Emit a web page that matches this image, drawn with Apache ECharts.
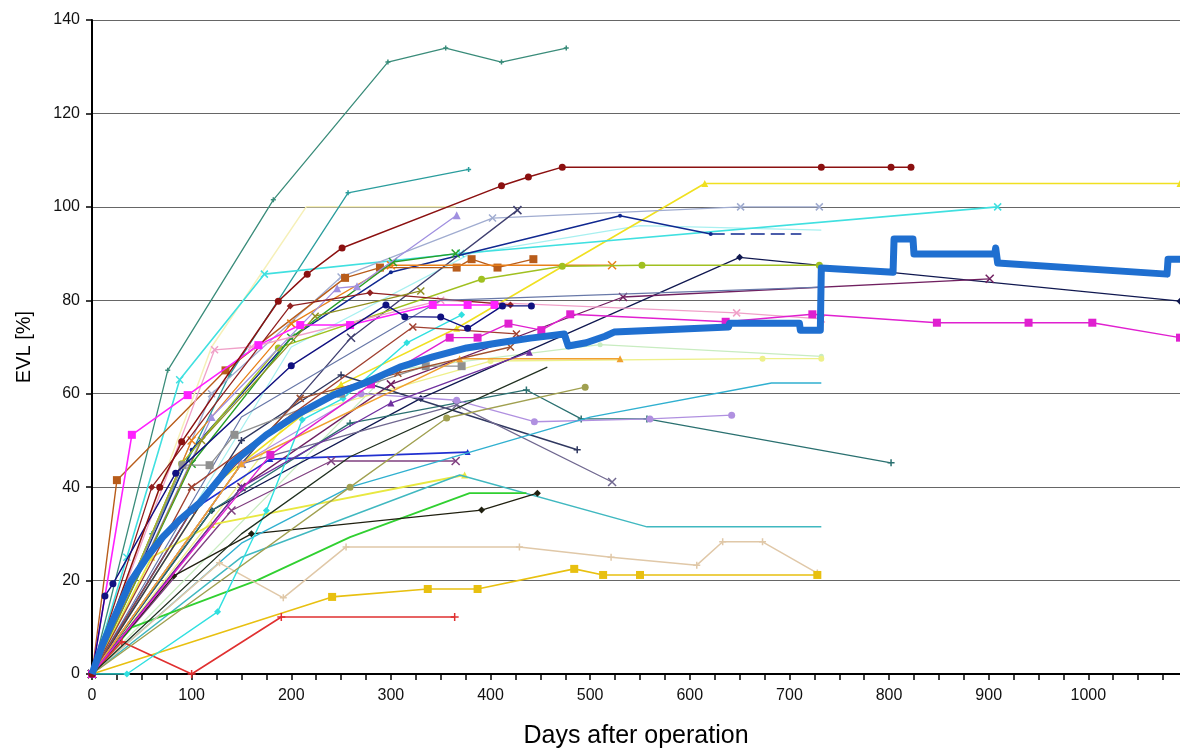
<!DOCTYPE html>
<html><head><meta charset="utf-8">
<script src="https://cdn.jsdelivr.net/npm/echarts@6/dist/echarts.min.js"></script>
<style>html,body{margin:0;padding:0;background:#fff}#c{width:1180px;height:752px}</style>
</head><body><div id="c"></div>
<script>
// ---- data: [days after operation, EVL %] ----
const seaTop      = [[0,0],[76,65],[182,101.5],[297,131],[355,134],[411,131],[476,134]];
const teal108     = [[0,0],[60,30],[138,64],[257,103],[378,108]];
const maroonDots  = [[0,0],[68,40],[90,49.7],[187,79.8],[216,85.6],[251,91.2],[411,104.5],[438,106.4],[472,108.5],[732,108.5],[802,108.5],[822,108.5]];
const yellowTop   = [[0,0],[120,40],[250,62],[366,74],[615,105],[1092,105]];
const cyanTop     = [[0,0],[35,25],[88,63],[173,85.6],[370,90],[909,100]];
const ltSteel     = [[0,0],[120,60],[250,85],[402,97.6],[651,100],[730,100]];
const darkSlateX  = [[0,0],[150,45],[260,72],[427,99.3]];
const navyPeak    = [[0,0],[100,48],[200,72],[300,86],[530,98.1],[621,94.2]];
const navyDash    = [[621,94.2],[712,94.2]];
const navyDiamond = [[0,0],[120,35],[330,59],[650,89.2],[1092,79.8]];
const purpleX     = [[0,0],[150,40],[300,62],[533,80.7],[901,84.6]];
const magentaA    = [[0,0],[40,51.2],[96,59.7],[167,70.4],[209,74.7],[259,74.7],[342,79],[377,79],[404,79]];
const magentaB    = [[0,0],[179,46.9],[280,62],[359,72],[387,72],[418,75],[451,73.6],[480,77],[636,75.4],[723,77],[848,75.2],[940,75.2],[1004,75.2],[1092,72]];
const brownSq     = [[0,0],[25,41.5],[134,65],[254,84.8],[289,87],[366,87],[381,88.8],[407,87],[443,88.8]];
const orangeX     = [[0,0],[100,50],[200,75],[300,87.5],[522,87.5]];
const limeCircle  = [[0,0],[90,45],[187,69.8],[391,84.5],[472,87.3],[552,87.5],[730,87.5]];
const greenX      = [[0,0],[100,45],[200,72],[302,88.2],[365,90]];
const navyCircles = [[0,0],[13,16.7],[21,19.3],[84,43],[200,66],[295,79],[314,76.5],[350,76.4],[377,74],[412,78.8],[441,78.8]];
const lavenderTri = [[0,0],[120,55],[246,82.6],[266,83],[366,98.2]];
const pinkX       = [[0,0],[123,69.4],[160,70],[350,80],[647,77.3],[732,76]];
const darkRed     = [[0,0],[60,40],[199,78.8],[279,81.6],[420,79]];
const slateFlat   = [[0,0],[150,55],[350,80],[732,82.8]];
const blueFlat47  = [[0,0],[100,35],[179,46],[377,47.5]];
const purpleFlat  = [[0,0],[140,35],[240,45.6],[365,45.6]];
const yellowB     = [[0,0],[60,25],[120,32],[374,42.6]];
const tealDown    = [[0,0],[150,25],[369,42.6],[557,31.5],[732,31.5]];
const greenB      = [[0,0],[40,10],[165,20],[259,29.3],[379,38.7],[436,38.7]];
const blackD      = [[0,0],[82,21],[160,30],[391,35.1],[447,38.7]];
const tealPlus    = [[0,0],[120,35],[259,53.7],[436,60.8],[491,54.6],[557,54.6],[802,45.2]];
const slateDown   = [[0,0],[150,50],[250,64],[487,48]];
const grayPurpleX = [[0,0],[150,45],[366,57.6],[522,41.1]];
const lavCircle   = [[0,0],[150,45],[270,60],[366,58.6],[444,54],[560,54.6],[642,55.4]];
const cyanRise    = [[0,0],[150,28],[259,40],[500,55],[682,62.3],[732,62.3]];
const tanLine     = [[0,0],[128,23.8],[192,16.3],[255,27.2],[429,27.2],[521,25],[607,23.3],[633,28.3],[673,28.3],[728,21.6]];
const goldSq      = [[0,0],[241,16.5],[337,18.2],[387,18.2],[484,22.5],[513,21.2],[550,21.2],[728,21.2]];
const redLine     = [[0,0],[30,6.9],[100,0],[190,12.2],[364,12.2]];
const brightCyan  = [[0,0],[35,0],[126,13.3],[175,35],[211,54.4],[252,59],[316,70.9],[371,76.9]];
const graySq      = [[0,0],[91,44.7],[118,44.7],[143,51.2],[250,60],[335,65.9],[371,65.9]];
const orangeTri   = [[0,0],[150,45],[369,67.5],[530,67.5]];
const paleY       = [[0,0],[200,55],[400,67],[673,67.5],[732,67.5]];
const paleGreen   = [[0,0],[300,65],[510,70.5],[732,68]];
const oliveCircle = [[0,0],[259,40],[356,54.8],[495,61.4]];
const blackRise   = [[0,0],[150,30],[259,46.5],[457,65.7]];
const purpleTri   = [[0,0],[150,40],[300,58],[439,68.9]];
const ltCyan      = [[0,0],[200,70],[380,90],[550,96],[732,95]];
const paleYel100  = [[0,0],[120,70],[215,100],[365,100]];
const brownXs     = [[0,0],[100,40],[322,74.3],[426,72.8]];
const oliveX      = [[0,0],[110,50],[224,76.6],[330,82]];
const brownX2     = [[0,0],[100,35],[209,59],[307,64.4],[420,70]];
const blueMean    = [[0,0],[10,6],[20,11],[38,19.5],[55,25],[71,29.3],[88,33],[108,36.6],[141,45.2],[175,51.2],[209,55.9],[242,59.7],[276,62.5],[309,65.7],[342,67.9],[376,69.8],[409,70.9],[440,71.9],[474,72.8],[478,70.2],[496,70.9],[515,72.3],[524,73.2],[639,74.3],[640,75.1],[710,75.1],[711,73.6],[731,73.6],[732,86.9],[804,86],[805,93.1],[824,93.1],[825,89.9],[906,89.9],[907,91.2],[909,88],[1079,85.6],[1080,88.8],[1092,88.8]];

const yTicks = [0,20,40,60,80,100,120,140];
const xLabelStep = 100;

// ---- styles ----
const X = 'path://M0,0L10,10M10,0L0,10';
const P = 'path://M5,0L5,10M0,5L10,5';
const styles = [
  [paleYel100,'#f6f0b8','none',0,1.5],
  [paleGreen,'#c8ecc0','circle',5,1.3],
  [paleY,'#eef08a','circle',6,1.3],
  [ltCyan,'#a8f0f0','none',0,1.3],
  [seaTop,'#3a8c7a',P,5,1.3],
  [teal108,'#2a9d9d',P,5,1.3],
  [yellowTop,'#f0e020','triangle',7,1.6],
  [cyanTop,'#40e0e0',X,7,1.6],
  [ltSteel,'#a0acd0',X,7,1.3],
  [darkSlateX,'#404070',X,8,1.3],
  [navyPeak,'#102890','circle',4,1.5],
  [navyDiamond,'#101850','diamond',7,1.3],
  [purpleX,'#702060',X,8,1.3],
  [brownSq,'#b85c1a','rect',8,1.4],
  [orangeX,'#e8801a',X,8,1.3],
  [limeCircle,'#a0c020','circle',7,1.4],
  [greenX,'#28a028',X,8,1.4],
  [lavenderTri,'#a090e0','triangle',8,1.3],
  [pinkX,'#f0a0c8',X,7,1.3],
  [darkRed,'#902020','diamond',7,1.3],
  [slateFlat,'#6878a8','none',0,1.2],
  [blueFlat47,'#2030d0','triangle',6,1.6],
  [purpleFlat,'#804080',X,8,1.3],
  [yellowB,'#e8e840','triangle',7,1.8],
  [tealDown,'#40b8c0','none',0,1.5],
  [greenB,'#30d030','none',0,1.8],
  [blackD,'#202010','diamond',7,1.3],
  [tealPlus,'#2a7070',P,7,1.3],
  [slateDown,'#303860',P,7,1.4],
  [grayPurpleX,'#706890',X,8,1.3],
  [lavCircle,'#b090e0','circle',7,1.3],
  [cyanRise,'#30b0d0','none',0,1.4],
  [tanLine,'#e0c8a8',P,7,1.5],
  [goldSq,'#e8c010','rect',8,1.6],
  [redLine,'#e03030',P,8,1.6],
  [brightCyan,'#30e0e0','diamond',7,1.4],
  [graySq,'#909090','rect',8,1.3],
  [orangeTri,'#f0a030','triangle',7,1.5],
  [oliveCircle,'#a0a050','circle',7,1.3],
  [blackRise,'#203020','none',0,1.3],
  [purpleTri,'#7030a0','triangle',7,1.3],
  [brownXs,'#a04030',X,7,1.3],
  [oliveX,'#909020',X,7,1.3],
  [brownX2,'#a05030',X,7,1.3],
  [magentaA,'#ff20ff','rect',8,1.6],
  [magentaB,'#e020d0','rect',8,1.4],
  [navyCircles,'#101080','circle',7,1.4],
  [maroonDots,'#8b1010','circle',7,1.5],
];

const series = styles.map(([d,c,sym,sz,w],i) => ({
  type:'line', data:d, symbol: sym, symbolSize: sz, showSymbol: sym!=='none',
  lineStyle:{color:c,width:w}, itemStyle:{color:c,borderColor:c,borderWidth:(sym===X||sym===P)?1.5:0},
  silent:true, z:2+i*0.01
}));
series.push({type:'line', data:navyDash, symbol:'none', lineStyle:{color:'#102890',width:1.6,type:[14,6]}, silent:true, z:2.5});
series.push({type:'line', data:blueMean, symbol:'none', lineStyle:{color:'#1f6fd0',width:7,join:'round'}, silent:true, z:5});

const FONT = 'Liberation Sans, Arial, sans-serif';
const chart = echarts.init(document.getElementById('c'), null, {renderer:'canvas'});
chart.setOption({
  animation:false,
  backgroundColor:'#ffffff',
  textStyle:{fontFamily:FONT},
  grid:{left:92, right:0, top:20, bottom:78, containLabel:false, outerBoundsMode:'none'},
  xAxis:{type:'value', min:0, max:1092, interval:25,
    name:'Days after operation', nameLocation:'middle', nameGap:50,
    nameTextStyle:{fontSize:25,color:'#000',fontFamily:FONT},
    axisLine:{lineStyle:{color:'#000',width:2}},
    axisTick:{show:true,length:6,lineStyle:{color:'#000',width:1.5}},
    axisLabel:{fontSize:16,color:'#111',margin:14,showMaxLabel:false,fontFamily:FONT,
      formatter:v=> (v%xLabelStep===0 ? String(v) : '')},
    splitLine:{show:false}},
  yAxis:{type:'value', min:yTicks[0], max:yTicks[yTicks.length-1], interval:20,
    name:'EVL [%]', nameLocation:'middle', nameGap:58, nameRotate:90,
    nameTextStyle:{fontSize:20,color:'#000',fontFamily:FONT},
    axisLine:{show:true,lineStyle:{color:'#000',width:2}},
    axisTick:{show:true,length:6,lineStyle:{color:'#000',width:1.5}},
    axisLabel:{fontSize:16,color:'#111',margin:12,fontFamily:FONT},
    splitLine:{show:true,lineStyle:{color:'#666',width:1}}},
  series
});
</script></body></html>
